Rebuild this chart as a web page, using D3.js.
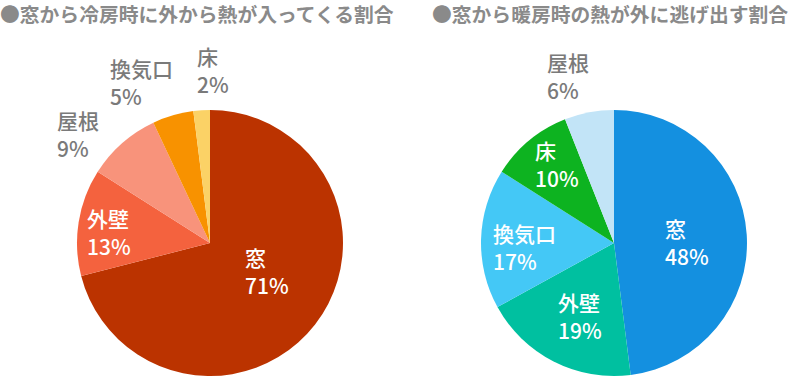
<!DOCTYPE html>
<html><head><meta charset="utf-8">
<script src="https://cdn.jsdelivr.net/npm/d3@7"></script>
<style>body{margin:0;background:#fff}svg{display:block}</style>
</head><body>
<svg id="c" width="800" height="383"></svg>
<script>
const leftTitle = "●窓から冷房時に外から熱が入ってくる割合";
const rightTitle = "●窓から暖房時の熱が外に逃げ出す割合";
const leftCategories = ["窓", "外壁", "屋根", "換気口", "床"];
const leftValues = [71, 13, 9, 5, 2];
const leftColors = ["#bb3300", "#f4623e", "#f8937b", "#f89200", "#fbd266"];
const rightCategories = ["窓", "外壁", "換気口", "床", "屋根"];
const rightValues = [48, 19, 17, 10, 6];
const rightColors = ["#1490e0", "#00c0a0", "#44c8f6", "#0db320", "#c2e4f7"];
// label placement: inside (white) or outside (gray) — anchor offsets relative to pie center
const leftLabelPos = [[35, 23, true], [-123, -16, true], [-153, -114, false], [-100, -166, false], [-13, -178, false]];
const rightLabelPos = [[51, -6, true], [-56, 68, true], [-121, -1, true], [-79, -84, true], [-67, -172, false]];

const svg = d3.select("#c");
const font = "'Noto Sans CJK JP', 'Noto Sans', sans-serif";

function drawPie(cx, cy, r, cats, vals, cols, pos, title, titleX) {
  svg.append("text").attr("x", titleX).attr("y", 22)
    .attr("font-family", font).attr("font-size", 19.8).attr("font-weight", 700)
    .attr("fill", "#8a8a8a").text(title);
  const pie = d3.pie().sort(null).value(d => d)(vals);
  const arc = d3.arc().innerRadius(0).outerRadius(r);
  const g = svg.append("g").attr("transform", `translate(${cx},${cy})`);
  g.selectAll("path").data(pie).join("path")
    .attr("d", arc).attr("fill", (d, i) => cols[i]);
  pie.forEach((d, i) => {
    const [dx, dy, inside] = pos[i];
    const t = g.append("text").attr("x", dx).attr("y", dy)
      .attr("font-family", font).attr("font-size", 21).attr("font-weight", 500)
      .attr("fill", inside ? "#ffffff" : "#7a7a7a");
    t.append("tspan").attr("x", dx).attr("dy", 0).text(cats[i]);
    t.append("tspan").attr("x", dx).attr("dy", 28).text(vals[i] + "%");
  });
}

drawPie(210, 243, 133, leftCategories, leftValues, leftColors, leftLabelPos, leftTitle, 0);
drawPie(614, 243, 133, rightCategories, rightValues, rightColors, rightLabelPos, rightTitle, 432);
</script>
</body></html>
